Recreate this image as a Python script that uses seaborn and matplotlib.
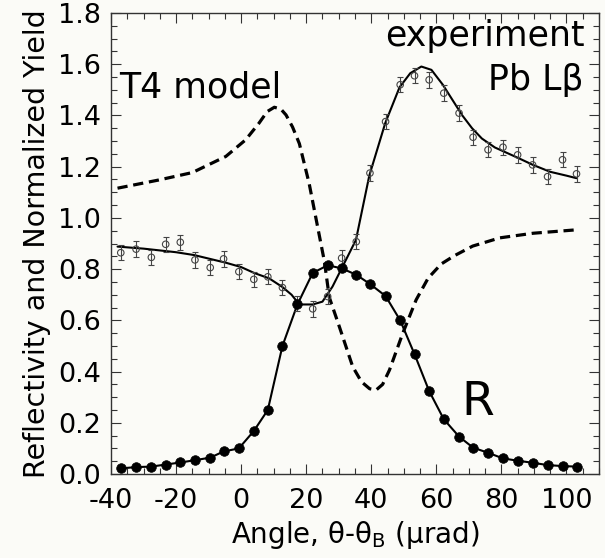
"""Pb L-beta fluorescence yield and reflectivity vs. angle (T4 model comparison)."""

import matplotlib
matplotlib.use("Agg")
import matplotlib.pyplot as plt
import numpy as np
import pandas as pd
import seaborn as sns
from matplotlib.ticker import MultipleLocator

# measured points (shared angle grid, µrad)
angle = [-37, -32.3, -27.6, -23.2, -18.7, -14.2, -9.5, -5.4, -0.7, 3.9, 8.2, 12.7,
         17.3, 22.0, 26.6, 30.9, 35.4, 39.6, 44.4, 48.9, 53.3, 57.8, 62.3, 67.0,
         71.3, 75.9, 80.5, 85.0, 89.6, 94.2, 98.8, 103.1]
reflectivity = [0.022, 0.027, 0.029, 0.037, 0.045, 0.054, 0.064, 0.088, 0.100, 0.168,
                0.250, 0.500, 0.662, 0.785, 0.815, 0.803, 0.778, 0.742, 0.695, 0.600,
                0.468, 0.324, 0.214, 0.146, 0.103, 0.083, 0.061, 0.052, 0.044, 0.035,
                0.031, 0.029]
yield_pb = [0.864, 0.878, 0.846, 0.897, 0.905, 0.836, 0.806, 0.840, 0.790, 0.760,
            0.770, 0.728, 0.665, 0.645, 0.693, 0.843, 0.907, 1.175, 1.376, 1.520,
            1.555, 1.539, 1.487, 1.409, 1.315, 1.266, 1.276, 1.246, 1.207, 1.161,
            1.227, 1.172]
yield_err = 0.03

# fit through the experimental yield
fit_x = [-38, -30, -20, -14.5, -4.7, 0, 4, 8.6, 12.7, 15.5, 17.9, 22, 25, 28.1,
         31.7, 35.3, 39.4, 44.3, 48.7, 52, 55.4, 58.5, 62, 65, 68, 71, 74, 78,
         85, 89.7, 95, 100, 103.1]
fit_y = [0.888, 0.880, 0.866, 0.855, 0.825, 0.808, 0.785, 0.764, 0.730, 0.700,
         0.662, 0.662, 0.673, 0.732, 0.823, 0.914, 1.165, 1.370, 1.510, 1.565,
         1.591, 1.578, 1.520, 1.460, 1.400, 1.350, 1.310, 1.275, 1.235, 1.207,
         1.180, 1.165, 1.155]

# T4 model yield (dashed)
t4_x = [-38, -25.3, -15, -4.7, 1.4, 5.5, 8.0, 10.2, 12.2, 13.8, 15.8, 17.9, 20.9,
        23.5, 25.6, 27.1, 30.2, 34.3, 37.0, 39.5, 41.5, 43.5, 45.6, 49.7, 53.8,
        57.5, 61.5, 65.5, 71.2, 79.5, 89.7, 102.6]
t4_y = [1.116, 1.148, 1.177, 1.240, 1.305, 1.370, 1.415, 1.432, 1.425, 1.402,
        1.355, 1.290, 1.135, 0.966, 0.830, 0.690, 0.575, 0.419, 0.360, 0.333,
        0.328, 0.350, 0.406, 0.550, 0.680, 0.765, 0.820, 0.852, 0.890, 0.922,
        0.940, 0.953]

df = pd.DataFrame({"angle": angle, "R": reflectivity, "yield": yield_pb})
fit = pd.DataFrame({"angle": fit_x, "y": fit_y})
t4 = pd.DataFrame({"angle": t4_x, "y": t4_y})

sns.set_style("ticks")
plt.rcParams["font.family"] = ["DejaVu Sans"]
plt.rcParams["mathtext.fontset"] = "dejavusans"
plt.rcParams["axes.unicode_minus"] = False
plt.rcParams["text.color"] = "black"
plt.rcParams["axes.labelcolor"] = "black"
plt.rcParams["xtick.color"] = "black"
plt.rcParams["ytick.color"] = "black"

bg = "#fbfbf7"
fig = plt.figure(figsize=(6.05, 5.58), dpi=100, facecolor=bg)
ax = fig.add_axes([0.1835, 0.1505, 0.8065, 0.8262])
ax.set_facecolor(bg)

sns.lineplot(data=t4, x="angle", y="y", ax=ax, color="black", lw=2.3,
             linestyle=(0, (3.2, 1.8)), sort=False)
sns.lineplot(data=fit, x="angle", y="y", ax=ax, color="black", lw=1.5, sort=False)
sns.lineplot(data=df, x="angle", y="R", ax=ax, color="black", lw=1.5, sort=False)

ax.errorbar(df["angle"], df["yield"], yerr=yield_err, fmt="none",
            ecolor="#444444", elinewidth=0.8, capsize=2.5, capthick=0.8, zorder=3)
sns.scatterplot(data=df, x="angle", y="yield", ax=ax, s=22, marker="o",
                facecolor="none", edgecolor="#444444", linewidth=0.8, zorder=4)
sns.scatterplot(data=df, x="angle", y="R", ax=ax, s=48, color="black",
                edgecolor="black", linewidth=0.5, zorder=5)

ax.set_xlim(-40, 110)
ax.set_ylim(0, 1.8)
ax.xaxis.set_major_locator(MultipleLocator(20))
ax.xaxis.set_minor_locator(MultipleLocator(5))
ax.yaxis.set_major_locator(MultipleLocator(0.2))
ax.yaxis.set_minor_locator(MultipleLocator(0.05))
ax.tick_params(which="both", direction="in", top=True, right=True,
               color="#333333", width=0.8, labelcolor="black")
ax.tick_params(which="major", length=7)
ax.tick_params(which="minor", length=4.5)
ax.tick_params(axis="x", pad=10)
ax.tick_params(axis="y", pad=7)
for lab in ax.get_xticklabels() + ax.get_yticklabels():
    lab.set_fontsize(19.5)
for sp in ax.spines.values():
    sp.set_color("#333333")
    sp.set_linewidth(1.0)

ax.set_xlabel(r"Angle, θ-θ$_{\mathrm{B}}$ (μrad)", fontsize=20, labelpad=4)
ax.set_ylabel("Reflectivity and Normalized Yield", fontsize=20.5, labelpad=5)

ax.text(-37.5, 1.47, "T4 model", fontsize=25, ha="left", va="baseline")
ax.text(105.6, 1.67, "experiment", fontsize=25, ha="right", va="baseline")
ax.text(105.3, 1.50, "Pb Lβ", fontsize=25, ha="right", va="baseline")
ax.text(67.8, 0.23, "R", fontsize=34, ha="left", va="baseline")

fig.savefig("out.png", dpi=100, facecolor=bg)
plt.close(fig)
